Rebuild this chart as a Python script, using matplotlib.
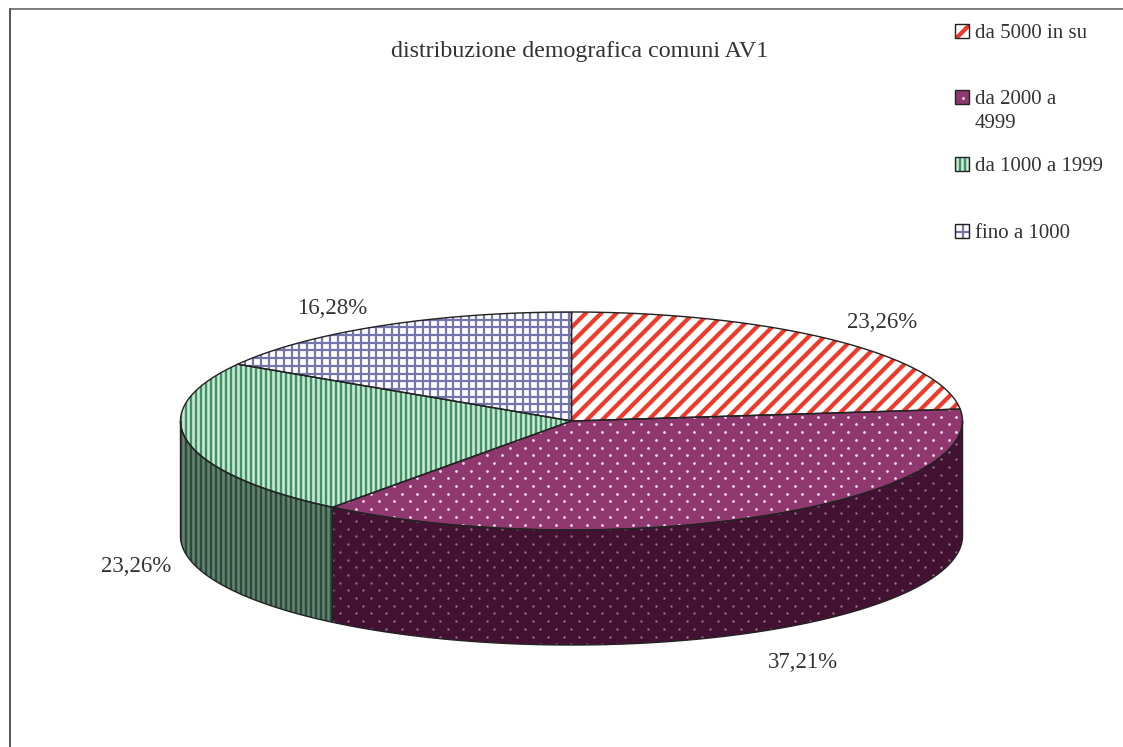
import numpy as np
import matplotlib
matplotlib.use("Agg")
import matplotlib.pyplot as plt
from matplotlib.patches import Polygon
from matplotlib.collections import LineCollection

# dati
title = "distribuzione demografica comuni AV1"
categories = ["da 5000 in su", "da 2000 a\n4999", "da 1000 a 1999", "fino a 1000"]
shares = [23.26, 37.21, 23.26, 16.28]
share_labels = ["23,26%", "37,21%", "23,26%", "16,28%"]

plt.rcParams["font.family"] = ["Liberation Serif", "DejaVu Serif"]

# geometria in pixel
W, H = 1123, 747
cx, cy, rx, ry, depth = 571.5, 421, 391, 109, 115
INK = "#222222"
TXT = "#333333"
PX = 0.72  # un pixel in punti

fig = plt.figure(figsize=(W / 100, H / 100), dpi=100)
ax = fig.add_axes([0, 0, 1, 1])
ax.set_xlim(0, W)
ax.set_ylim(H, 0)
ax.axis("off")


def arc(a0, a1, dy=0):
    t = np.radians(np.linspace(a0, a1, max(int(abs(a1 - a0) * 2), 2)))
    return np.column_stack([cx + rx * np.cos(t), cy + dy - ry * np.sin(t)])


def stripes(patch, bbox, kind, color, lw, period):
    x0, y0, x1, y1 = bbox
    segs = []
    if kind == "diag":
        for c in np.arange(x0 - (y1 - y0), x1 + (y1 - y0), period):
            segs.append([(c, y1), (c + (y1 - y0), y0)])
    if kind in ("vert", "grid"):
        for x in np.arange(x0, x1 + period, period):
            segs.append([(x, y0), (x, y1)])
    if kind == "grid":
        for y in np.arange(y0, y1 + period, period):
            segs.append([(x0, y), (x1, y)])
    lc = LineCollection(segs, colors=color, linewidths=lw * PX, zorder=patch.get_zorder())
    ax.add_collection(lc)
    lc.set_clip_path(patch)


def dots(patch, bbox, color, size, step=15.4):
    x0, y0, x1, y1 = bbox
    xs, ys = [], []
    for i, y in enumerate(np.arange(y0, y1 + step, step / 2)):
        row = np.arange(x0 + (i % 2) * step / 2, x1 + step, step)
        xs.extend(row)
        ys.extend([y] * len(row))
    pts = ax.scatter(xs, ys, s=size, color=color, linewidths=0, zorder=patch.get_zorder())
    pts.set_clip_path(patch)


def fill_pattern(pts, style, dark=False, small=False):
    z = 3 if not small else 4
    face = style["side"] if dark else style["face"]
    p = Polygon(pts, closed=True, facecolor=face, edgecolor="none", zorder=z)
    ax.add_patch(p)
    xy = np.asarray(pts)
    bbox = (xy[:, 0].min(), xy[:, 1].min(), xy[:, 0].max(), xy[:, 1].max())
    col = style["side_ink"] if dark else style["ink"]
    if style["kind"] == "dots":
        dots(p, bbox, col, 4.0 if not dark else 3.0)
    else:
        stripes(p, bbox, style["kind"], col, style["lw"], style["period"])
    # contorno sopra il motivo
    ax.add_patch(Polygon(pts, closed=True, fill=False, edgecolor=INK, linewidth=1.4 * PX, zorder=z + 0.5))


styles = [
    dict(kind="diag", face="white", ink="#ee3a2b", side="white", side_ink="#ee3a2b", lw=4.2, period=15.4),
    dict(kind="dots", face="#8f386f", ink="#f0dcea", side="#431233", side_ink="#8f7088", lw=0, period=0),
    dict(kind="vert", face="#cfe6d8", ink="#3a9560", side="#6c7f72", side_ink="#234f38", lw=2.4, period=5.0),
    dict(kind="grid", face="white", ink="#7575ae", side="white", side_ink="#7575ae", lw=2.2, period=7.7),
]

# angoli delle fette: si parte dall'alto in senso orario
edges = 90 - np.cumsum([0] + shares) * 360 / sum(shares)

# fianco visibile: solo la meta anteriore (angoli tra 0 e -180)
for i in range(len(shares)):
    lo, hi = max(edges[i + 1], -180), min(edges[i], 0)
    if hi > lo:
        top = arc(hi, lo)
        bottom = arc(lo, hi, depth)
        fill_pattern(np.vstack([top, bottom]), styles[i], dark=True)

# faccia superiore
for i in range(len(shares)):
    pts = np.vstack([[(cx, cy)], arc(edges[i], edges[i + 1])])
    fill_pattern(pts, styles[i])

# etichette percentuali
label_pos = [(882, 323), (803, 663), (136, 567), (332, 309)]
for txt, (x, y) in zip(share_labels, label_pos):
    ax.text(x, y, txt, fontsize=16.5, color=TXT, ha="center", va="center", zorder=6)

ax.text(580, 52, title, fontsize=17.3, color=TXT, ha="center", va="center", zorder=6)

# legenda
legend_y = [31, 97, 164, 231]
for name, st, y in zip(categories, styles, legend_y):
    s = 7
    corners = [(955, y - s), (969, y - s), (969, y + s), (955, y + s)]
    fill_pattern(corners, st, small=True)
    ax.text(975, y - 7, name, fontsize=15, color=TXT, ha="left", va="top",
            linespacing=1.37, zorder=6)

# cornice
ax.plot([10, 10], [H, 9], color=INK, lw=1.5 * PX, zorder=7)
ax.plot([10, W], [9, 9], color="#555555", lw=1.5 * PX, zorder=7)

fig.savefig("out.png", dpi=100)
